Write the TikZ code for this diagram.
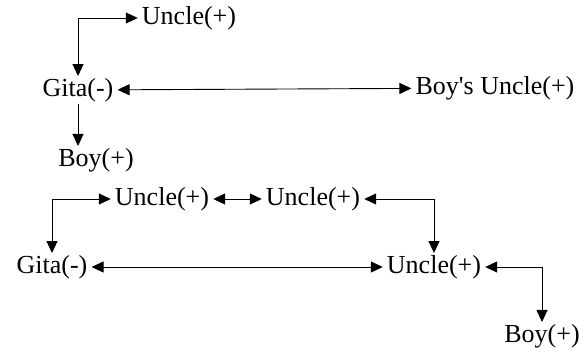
\documentclass[tikz,border=0pt]{standalone}
\usepackage{fontspec}
\setmainfont{Liberation Serif}
\usetikzlibrary{arrows.meta}
\tikzset{
  member/.style={inner xsep=4pt, inner ysep=2pt, font=\fontsize{26}{30}\selectfont},
  link/.style={line width=0.9pt, >={Triangle[length=12pt,width=11pt]}}
}
\begin{document}
\begin{tikzpicture}[x=1pt,y=-1pt]
\useasboundingbox (0,0) rectangle (585,351);
% first tree
\node[member] (U1) at (189,18) {Uncle(+)};
\node[member] (G1) at (78,90) {Gita(-)};
\node[member] (BU) at (495,88) {Boy\textquotesingle s Uncle(+)};
\node[member] (B1) at (96,160) {Boy(+)};
\draw [link,<->] (U1) -| (G1);
\draw [link,<->] (G1) -- (BU);
\draw [link,->] (G1.south) -- (B1.north -| G1.south);
% second tree
\node[member] (U2) at (162,199) {Uncle(+)};
\node[member] (U3) at (313,199) {Uncle(+)};
\node[member] (G2) at (52,267) {Gita(-)};
\node[member] (U4) at (434,267) {Uncle(+)};
\node[member] (B2) at (542,336) {Boy(+)};
\draw [link,<->] (U2) -| (G2);
\draw [link,<->] (U2) -- (U3);
\draw [link,<->] (U3) -| (U4);
\draw [link,<->] (G2) -- (U4);
\draw [link,<->] (U4) -| (B2);
\end{tikzpicture}
\end{document}
